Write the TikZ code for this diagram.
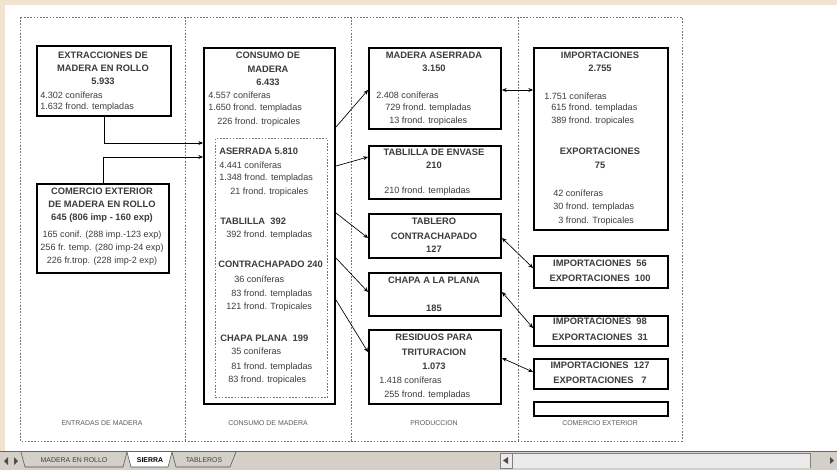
\documentclass[tikz,border=0pt]{standalone}
\usepackage{fontspec}
\setmainfont{Liberation Sans}
\usepackage{xcolor}
\usetikzlibrary{arrows.meta}
\definecolor{paper}{RGB}{242,227,207}
\definecolor{barfill}{RGB}{212,208,200}
\definecolor{inkgray}{RGB}{60,60,60}
\tikzset{
  bx/.style={draw, line width=1.5pt, anchor=north west, inner sep=0pt},
  hd/.style={font=\fontsize{7}{8}\selectfont\bfseries, inner sep=0.75pt, text=inkgray},
  tx/.style={font=\fontsize{6.8}{8}\selectfont, anchor=west, inner sep=0.75pt, text=inkgray},
  lab/.style={font=\fontsize{5.2}{6}\selectfont, inner sep=0.75pt, text=black!65},
  grid/.style={draw=black!55, line width=0.5pt, dash pattern={on 1.2pt off 1.2pt}},
  arr/.style={-{Stealth[length=3.5pt,width=3pt]}, line width=0.5pt},
  darr/.style={{Stealth[length=3.5pt,width=3pt]}-{Stealth[length=3.5pt,width=3pt]}, line width=0.5pt}
}
\begin{document}
\begin{tikzpicture}[x=0.75pt,y=0.75pt,yscale=-1,xscale=1]
	\useasboundingbox (0,0) rectangle (837,470);
	%Window frame
	\fill[white] (0,0) rectangle (837,470);
	\fill[paper] (0,0) rectangle (837,5);
	\fill[paper] (0,0) rectangle (5,451);
	
	%Columns
	\draw[grid] (20,17) rectangle (682,441);
	\draw[grid] (185,17) -- (185,441);
	\draw[grid] (351,17) -- (351,441);
	\draw[grid] (518,17) -- (518,441);
	\node (lab1) [lab] at (102,423) {ENTRADAS DE MADERA};
	\node (lab2) [lab] at (268,423) {CONSUMO DE MADERA};
	\node (lab3) [lab] at (434,423) {PRODUCCION};
	\node (lab4) [lab] at (600,423) {COMERCIO EXTERIOR};
	
	%Boxes
	\node (extr) [bx, minimum width=100.5pt, minimum height=52.5pt] at (36,45) {};
	\node (comext) [bx, minimum width=99pt, minimum height=66.75pt] at (36,183) {};
	\node (consumo) [bx, minimum width=98.25pt, minimum height=267pt] at (203,47) {};
	\node (inner) [grid, anchor=north west, inner sep=0pt, minimum width=84pt, minimum height=194.25pt] at (215,138) {};
	\node (aserr) [bx, minimum width=99pt, minimum height=60.75pt] at (368,47) {};
	\node (tablilla) [bx, minimum width=99pt, minimum height=39.75pt] at (368,145) {};
	\node (tablero) [bx, minimum width=99pt, minimum height=33pt] at (368,213) {};
	\node (chapa) [bx, minimum width=99pt, minimum height=32.25pt] at (368,272) {};
	\node (resid) [bx, minimum width=99pt, minimum height=55.5pt] at (368,329) {};
	\node (imp) [bx, minimum width=100.5pt, minimum height=136.5pt] at (533,47) {};
	\node (b1) [bx, minimum width=100.5pt, minimum height=24pt] at (533,255) {};
	\node (b2) [bx, minimum width=100.5pt, minimum height=22.5pt] at (533,315) {};
	\node (b3) [bx, minimum width=100.5pt, minimum height=22.5pt] at (533,358) {};
	\node (b4) [bx, line width=1.2pt, minimum width=100.5pt, minimum height=10.5pt] at (533,401) {};
	
	%Texts: entradas
	\node (extr1) [hd] at (103,55) {EXTRACCIONES DE};
	\node (extr2) [hd] at (103,68) {MADERA EN ROLLO};
	\node (extr3) [hd] at (103,81) {5.933};
	\node (extr4) [tx] at (39,95) {4.302 coníferas};
	\node (extr5) [tx] at (39,107) {1.632 frond. templadas};
	\node (com1) [hd] at (102,191) {COMERCIO EXTERIOR};
	\node (com2) [hd] at (102,204) {DE MADERA EN ROLLO};
	\node (com3) [hd] at (102,218) {645 (806 imp - 160 exp)};
	\node (com4) [tx, anchor=center] at (102,235) {165 conif. (288 imp.-123 exp)};
	\node (com5) [tx, anchor=center] at (102,248) {256 fr. temp. (280 imp-24 exp)};
	\node (com6) [tx, anchor=center] at (102,261) {226 fr.trop. (228 imp-2 exp)};
	
	%Texts: consumo
	\node (con1) [hd] at (268,55) {CONSUMO DE};
	\node (con2) [hd] at (268,69) {MADERA};
	\node (con3) [hd] at (268,82) {6.433};
	\node (con4) [tx] at (207,95) {4.557 coníferas};
	\node (con5) [tx] at (207,108) {1.650 frond. templadas};
	\node (con6) [tx] at (216,122) {226 frond. tropicales};
	\node (ase1) [hd, anchor=west] at (218,151) {ASERRADA 5.810};
	\node (ase2) [tx] at (218,165) {4.441 coníferas};
	\node (ase3) [tx] at (218,178) {1.348 frond. templadas};
	\node (ase4) [tx] at (229,192) {21 frond. tropicales};
	\node (tab1) [hd, anchor=west] at (219,221) {TABLILLA \ 392};
	\node (tab2) [tx] at (225,235) {392 frond. templadas};
	\node (con7) [hd, anchor=west] at (217,264) {CONTRACHAPADO 240};
	\node (con8) [tx] at (233,279) {36 coníferas};
	\node (con9) [tx] at (230,294) {83 frond. templadas};
	\node (con10) [tx] at (225,307) {121 frond. Tropicales};
	\node (cha1) [hd, anchor=west] at (219,338) {CHAPA PLANA \ 199};
	\node (cha2) [tx] at (230,351) {35 coníferas};
	\node (cha3) [tx] at (230,367) {81 frond. templadas};
	\node (cha4) [tx] at (227,380) {83 frond. tropicales};
	
	%Texts: produccion
	\node (pro1) [hd] at (434,55) {MADERA ASERRADA};
	\node (pro2) [hd] at (434,68) {3.150};
	\node (pro3) [tx] at (375,95) {2.408 coníferas};
	\node (pro4) [tx] at (384,108) {729 frond. templadas};
	\node (pro5) [tx] at (388,121) {13 frond. tropicales};
	\node (pro6) [hd] at (434,152) {TABLILLA DE ENVASE};
	\node (pro7) [hd] at (434,165) {210};
	\node (pro8) [tx] at (383,191) {210 frond. templadas};
	\node (pro9) [hd] at (434,221) {TABLERO};
	\node (pro10) [hd] at (434,236) {CONTRACHAPADO};
	\node (pro11) [hd] at (434,249) {127};
	\node (pro12) [hd] at (434,280) {CHAPA A LA PLANA};
	\node (pro13) [hd] at (434,308) {185};
	\node (pro14) [hd] at (434,337) {RESIDUOS PARA};
	\node (pro15) [hd] at (434,352) {TRITURACION};
	\node (pro16) [hd] at (434,366) {1.073};
	\node (pro17) [tx] at (378,380) {1.418 coníferas};
	\node (pro18) [tx] at (383,395) {255 frond. templadas};
	
	%Texts: comercio exterior
	\node (imp1) [hd] at (600,55) {IMPORTACIONES};
	\node (imp2) [hd] at (600,68) {2.755};
	\node (imp3) [tx] at (543,96) {1.751 coníferas};
	\node (imp4) [tx] at (550,108) {615 frond. templadas};
	\node (imp5) [tx] at (550,121) {389 frond. tropicales};
	\node (exp1) [hd] at (600,151) {EXPORTACIONES};
	\node (exp2) [hd] at (600,165) {75};
	\node (exp3) [tx] at (552,193) {42 coníferas};
	\node (exp4) [tx] at (552,207) {30 frond. templadas};
	\node (exp5) [tx] at (557,221) {3 frond. Tropicales};
	\node (b1a) [hd] at (600,263) {IMPORTACIONES \ 56};
	\node (b1b) [hd] at (600,278) {EXPORTACIONES \ 100};
	\node (b2a) [hd] at (600,321) {IMPORTACIONES \ 98};
	\node (b2b) [hd] at (600,337) {EXPORTACIONES \ 31};
	\node (b3a) [hd] at (600,365) {IMPORTACIONES \ 127};
	\node (b3b) [hd] at (600,380) {EXPORTACIONES \ \ 7};
	
	%Connectors
	\draw[arr] (extr.south) |- (consumo.west |- 0,143);
	\draw[arr] (comext.north) |- (consumo.west |- 0,157);
	\draw[arr] (consumo.east |- 0,127) -- (aserr.west |- 0,90);
	\draw[arr] (consumo.east |- 0,166) -- (tablilla.west |- 0,157);
	\draw[arr] (consumo.east |- 0,213) -- (tablero.west |- 0,238);
	\draw[arr] (consumo.east |- 0,258) -- (chapa.west |- 0,292);
	\draw[arr] (consumo.east |- 0,300) -- (resid.west |- 0,352);
	\draw[darr] (aserr.east |- 0,90) -- (imp.west |- 0,90);
	\draw[darr] (tablero.east |- 0,238) -- (b1.west |- 0,268);
	\draw[darr] (chapa.east |- 0,292) -- (b2.west |- 0,328);
	\draw[darr] (resid.east |- 0,358) -- (b3.west |- 0,372);
	
	%Sheet tabs
	\fill[barfill] (0,451) rectangle (837,470);
	\draw[black!60, line width=0.4pt] (0,451) -- (837,451);
	\fill[black!70] (4,461) -- (8,457) -- (8,465) -- cycle;
	\fill[black!70] (14,457) -- (18,461) -- (14,465) -- cycle;
	\draw[black!70, line width=0.4pt] (21,452) -- (25,467) -- (123,467) -- (127,452);
	\fill[white] (127,452) -- (131,467) -- (168,467) -- (172,452) -- cycle;
	\draw[black!70, line width=0.4pt] (127,452) -- (131,467) -- (168,467) -- (172,452);
	\draw[black!70, line width=0.4pt] (172,452) -- (176,467) -- (230,467) -- (236,452);
	\node (tabA) [lab, text=black!75] at (74,460) {MADERA EN ROLLO};
	\node (tabB) [lab, text=black, font=\fontsize{5.2}{6}\selectfont\bfseries] at (150,460) {SIERRA};
	\node (tabC) [lab, text=black!75] at (204,460) {TABLEROS};
	\fill[black!8] (500,453) rectangle (810,468);
	\draw[black!50, line width=0.4pt] (500,453) rectangle (512,468);
	\fill[black!70] (503,460.5) -- (508,457) -- (508,464) -- cycle;
	\draw[black!50, line width=0.4pt] (512,453) -- (810,453) (810,453) -- (810,468);
	\fill[black!70] (830,457) -- (834,460.5) -- (830,464) -- cycle;
	
\end{tikzpicture}
\end{document}
